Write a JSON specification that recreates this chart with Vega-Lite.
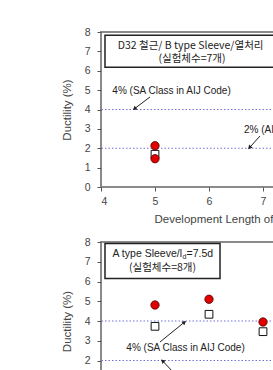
{
  "$schema": "https://vega.github.io/schema/vega-lite/v6.json",
  "padding": {"left": 60, "top": 26, "right": 0, "bottom": 0},
  "background": "white",
  "spacing": 55,
  "bounds": "flush",
  "config": {
    "font": "Liberation Sans, Noto Sans CJK KR",
    "view": {"stroke": "#8a8a8a", "strokeWidth": 2},
    "axis": {
      "grid": false,
      "domain": false,
      "tickColor": "#555",
      "tickSize": 4,
      "labelColor": "#444",
      "labelFontSize": 10.5,
      "labelFont": "Liberation Sans",
      "labelOverlap": false,
      "titleColor": "#444",
      "titleFontSize": 11.5,
      "titleFontWeight": "normal",
      "titleFont": "Liberation Sans"
    },
    "axisX": {"values": [4, 5, 6, 7, 8, 9, 10], "format": "d", "labelPadding": 5, "titlePadding": 7, "titleAnchor": "start", "titleX": 53, "labelOverlap": false},
    "axisY": {"values": [0, 1, 2, 3, 4, 5, 6, 7, 8], "format": "d", "labelPadding": 7, "titlePadding": 12, "labelOverlap": false}
  },
  "datasets": {
    "top": [
      {"len": 5, "ductility": 2.13, "type": "circle"},
      {"len": 5, "ductility": 1.46, "type": "circle"},
      {"len": 5, "ductility": 1.69, "type": "square"}
    ],
    "bottom": [
      {"len": 5, "ductility": 4.81, "type": "circle"},
      {"len": 5, "ductility": 3.73, "type": "square"},
      {"len": 6, "ductility": 5.1, "type": "circle"},
      {"len": 6, "ductility": 4.34, "type": "square"},
      {"len": 7, "ductility": 3.95, "type": "circle"},
      {"len": 7, "ductility": 3.46, "type": "square"}
    ],
    "limits": [{"level": 4}, {"level": 2}]
  },
  "vconcat": [
    {
      "width": 324,
      "height": 155,
      "layer": [
        {
          "data": {"name": "limits"},
          "mark": {"type": "rule", "color": "#7070dd", "strokeDash": [1.5, 2], "strokeWidth": 1},
          "encoding": {"y": {"field": "level", "type": "quantitative", "scale": {"domain": [0, 8]}, "axis": {"title": "Ductility (%)", "values": [0, 1, 2, 3, 4, 5, 6, 7, 8], "labelOverlap": false}}}
        },
        {
          "data": {"values": [{"x": 4.074, "x2": 7.296, "y": 7.83, "y2": 6.18}]},
          "mark": {"type": "rect", "fill": "white", "stroke": "#222", "strokeWidth": 1.5},
          "encoding": {
            "x": {"field": "x", "type": "quantitative", "scale": {"domain": [4, 10]}, "axis": {"title": "Development Length of Sleeve (d)", "values": [4, 5, 6, 7, 8, 9, 10], "labelOverlap": false}},
            "x2": {"field": "x2"},
            "y": {"field": "y", "type": "quantitative", "scale": {"domain": [0, 8]}, "axis": {"title": "Ductility (%)", "values": [0, 1, 2, 3, 4, 5, 6, 7, 8], "labelOverlap": false}},
            "y2": {"field": "y2"}
          }
        },
        {
          "data": {"values": [
            {"x": 5.66, "y": 7.29, "t": "D32 철근/ B type Sleeve/열처리"},
            {"x": 5.685, "y": 6.6, "t": "(실험체수=7개)"}
          ]},
          "mark": {"type": "text", "fontSize": 10.5, "color": "#222", "align": "center", "baseline": "middle", "font": "Noto Sans CJK KR"},
          "encoding": {
            "x": {"field": "x", "type": "quantitative", "scale": {"domain": [4, 10]}, "axis": {"title": "Development Length of Sleeve (d)", "values": [4, 5, 6, 7, 8, 9, 10], "labelOverlap": false}},
            "y": {"field": "y", "type": "quantitative", "scale": {"domain": [0, 8]}, "axis": {"title": "Ductility (%)", "values": [0, 1, 2, 3, 4, 5, 6, 7, 8], "labelOverlap": false}},
            "text": {"field": "t"}
          }
        },
        {
          "data": {"values": [{"x": 5.306, "y": 4.955, "t": "4% (SA Class in AIJ Code)"}]},
          "mark": {"type": "text", "fontSize": 10, "color": "#222", "align": "center", "baseline": "middle"},
          "encoding": {
            "x": {"field": "x", "type": "quantitative", "scale": {"domain": [4, 10]}, "axis": {"title": "Development Length of Sleeve (d)", "values": [4, 5, 6, 7, 8, 9, 10], "labelOverlap": false}},
            "y": {"field": "y", "type": "quantitative", "scale": {"domain": [0, 8]}, "axis": {"title": "Ductility (%)", "values": [0, 1, 2, 3, 4, 5, 6, 7, 8], "labelOverlap": false}},
            "text": {"field": "t"}
          }
        },
        {
          "data": {"values": [{"x": 6.648, "y": 2.942, "t": "2% (AIJ Code)"}]},
          "mark": {"type": "text", "fontSize": 10, "color": "#222", "align": "left", "baseline": "middle"},
          "encoding": {
            "x": {"field": "x", "type": "quantitative", "scale": {"domain": [4, 10]}, "axis": {"title": "Development Length of Sleeve (d)", "values": [4, 5, 6, 7, 8, 9, 10], "labelOverlap": false}},
            "y": {"field": "y", "type": "quantitative", "scale": {"domain": [0, 8]}, "axis": {"title": "Ductility (%)", "values": [0, 1, 2, 3, 4, 5, 6, 7, 8], "labelOverlap": false}},
            "text": {"field": "t"}
          }
        },
        {
          "data": {"values": [
            {"x": 4.907, "y": 4.645, "x2": 4.62, "y2": 4.04},
            {"x": 6.944, "y": 2.632, "x2": 6.75, "y2": 2.03}
          ]},
          "mark": {"type": "rule", "color": "#222", "strokeWidth": 1},
          "encoding": {
            "x": {"field": "x", "type": "quantitative", "scale": {"domain": [4, 10]}, "axis": {"title": "Development Length of Sleeve (d)", "values": [4, 5, 6, 7, 8, 9, 10], "labelOverlap": false}},
            "y": {"field": "y", "type": "quantitative", "scale": {"domain": [0, 8]}, "axis": {"title": "Ductility (%)", "values": [0, 1, 2, 3, 4, 5, 6, 7, 8], "labelOverlap": false}},
            "x2": {"field": "x2"},
            "y2": {"field": "y2"}
          }
        },
        {
          "data": {"values": [{"x": 4.62, "y": 4.04}]},
          "mark": {"type": "point", "shape": "triangle-up", "filled": true, "color": "#222", "size": 22, "angle": 233, "opacity": 1},
          "encoding": {
            "x": {"field": "x", "type": "quantitative", "scale": {"domain": [4, 10]}, "axis": {"title": "Development Length of Sleeve (d)", "values": [4, 5, 6, 7, 8, 9, 10], "labelOverlap": false}},
            "y": {"field": "y", "type": "quantitative", "scale": {"domain": [0, 8]}, "axis": {"title": "Ductility (%)", "values": [0, 1, 2, 3, 4, 5, 6, 7, 8], "labelOverlap": false}}
          }
        },
        {
          "data": {"values": [{"x": 6.75, "y": 2.03}]},
          "mark": {"type": "point", "shape": "triangle-up", "filled": true, "color": "#222", "size": 22, "angle": 222, "opacity": 1},
          "encoding": {
            "x": {"field": "x", "type": "quantitative", "scale": {"domain": [4, 10]}, "axis": {"title": "Development Length of Sleeve (d)", "values": [4, 5, 6, 7, 8, 9, 10], "labelOverlap": false}},
            "y": {"field": "y", "type": "quantitative", "scale": {"domain": [0, 8]}, "axis": {"title": "Ductility (%)", "values": [0, 1, 2, 3, 4, 5, 6, 7, 8], "labelOverlap": false}}
          }
        },
        {
          "data": {"name": "top"},
          "transform": [{"filter": "datum.type === 'square'"}],
          "mark": {"type": "point", "shape": "square", "filled": true, "fill": "white", "stroke": "#111", "strokeWidth": 1, "size": 60, "opacity": 1},
          "encoding": {
            "x": {"field": "len", "type": "quantitative", "scale": {"domain": [4, 10]}, "axis": {"title": "Development Length of Sleeve (d)", "values": [4, 5, 6, 7, 8, 9, 10], "labelOverlap": false}},
            "y": {"field": "ductility", "type": "quantitative", "scale": {"domain": [0, 8]}, "axis": {"title": "Ductility (%)", "values": [0, 1, 2, 3, 4, 5, 6, 7, 8], "labelOverlap": false}}
          }
        },
        {
          "data": {"name": "top"},
          "transform": [{"filter": "datum.type === 'circle'"}],
          "mark": {"type": "point", "shape": "circle", "filled": true, "fill": "#e00000", "stroke": "#500", "strokeWidth": 0.8, "size": 70, "opacity": 1},
          "encoding": {
            "x": {"field": "len", "type": "quantitative", "scale": {"domain": [4, 10]}, "axis": {"title": "Development Length of Sleeve (d)", "values": [4, 5, 6, 7, 8, 9, 10], "labelOverlap": false}},
            "y": {"field": "ductility", "type": "quantitative", "scale": {"domain": [0, 8]}, "axis": {"title": "Ductility (%)", "values": [0, 1, 2, 3, 4, 5, 6, 7, 8], "labelOverlap": false}}
          }
        }
      ]
    },
    {
      "width": 324,
      "height": 158,
      "layer": [
        {
          "data": {"name": "limits"},
          "mark": {"type": "rule", "color": "#7070dd", "strokeDash": [1.5, 2], "strokeWidth": 1},
          "encoding": {"y": {"field": "level", "type": "quantitative", "scale": {"domain": [0, 8]}, "axis": {"title": "Ductility (%)", "values": [0, 1, 2, 3, 4, 5, 6, 7, 8], "labelOverlap": false}}}
        },
        {
          "data": {"values": [{"x": 4.074, "x2": 6.204, "y": 7.92, "y2": 6.15}]},
          "mark": {"type": "rect", "fill": "white", "stroke": "#222", "strokeWidth": 1.5},
          "encoding": {
            "x": {"field": "x", "type": "quantitative", "scale": {"domain": [4, 10]}, "axis": {"title": "Development Length of Sleeve (d)", "values": [4, 5, 6, 7, 8, 9, 10], "labelOverlap": false}},
            "x2": {"field": "x2"},
            "y": {"field": "y", "type": "quantitative", "scale": {"domain": [0, 8]}, "axis": {"title": "Ductility (%)", "values": [0, 1, 2, 3, 4, 5, 6, 7, 8], "labelOverlap": false}},
            "y2": {"field": "y2"}
          }
        },
        {
          "data": {"values": [{"x": 5.5, "y": 7.39, "t": "A type Sleeve/l"}]},
          "mark": {"type": "text", "fontSize": 10.5, "color": "#222", "align": "right", "baseline": "middle"},
          "encoding": {
            "x": {"field": "x", "type": "quantitative", "scale": {"domain": [4, 10]}, "axis": {"title": "Development Length of Sleeve (d)", "values": [4, 5, 6, 7, 8, 9, 10], "labelOverlap": false}},
            "y": {"field": "y", "type": "quantitative", "scale": {"domain": [0, 8]}, "axis": {"title": "Ductility (%)", "values": [0, 1, 2, 3, 4, 5, 6, 7, 8], "labelOverlap": false}},
            "text": {"field": "t"}
          }
        },
        {
          "data": {"values": [{"x": 5.5, "y": 7.39, "t": "d"}]},
          "mark": {"type": "text", "fontSize": 7, "color": "#222", "align": "left", "baseline": "middle", "dx": 0.5, "dy": 3},
          "encoding": {
            "x": {"field": "x", "type": "quantitative", "scale": {"domain": [4, 10]}, "axis": {"title": "Development Length of Sleeve (d)", "values": [4, 5, 6, 7, 8, 9, 10], "labelOverlap": false}},
            "y": {"field": "y", "type": "quantitative", "scale": {"domain": [0, 8]}, "axis": {"title": "Ductility (%)", "values": [0, 1, 2, 3, 4, 5, 6, 7, 8], "labelOverlap": false}},
            "text": {"field": "t"}
          }
        },
        {
          "data": {"values": [{"x": 5.5, "y": 7.39, "t": "=7.5d"}]},
          "mark": {"type": "text", "fontSize": 10.5, "color": "#222", "align": "left", "baseline": "middle", "dx": 4.5},
          "encoding": {
            "x": {"field": "x", "type": "quantitative", "scale": {"domain": [4, 10]}, "axis": {"title": "Development Length of Sleeve (d)", "values": [4, 5, 6, 7, 8, 9, 10], "labelOverlap": false}},
            "y": {"field": "y", "type": "quantitative", "scale": {"domain": [0, 8]}, "axis": {"title": "Ductility (%)", "values": [0, 1, 2, 3, 4, 5, 6, 7, 8], "labelOverlap": false}},
            "text": {"field": "t"}
          }
        },
        {
          "data": {"values": [{"x": 5.139, "y": 6.68, "t": "(실험체수=8개)"}]},
          "mark": {"type": "text", "fontSize": 10.5, "color": "#222", "align": "center", "baseline": "middle", "font": "Noto Sans CJK KR"},
          "encoding": {
            "x": {"field": "x", "type": "quantitative", "scale": {"domain": [4, 10]}, "axis": {"title": "Development Length of Sleeve (d)", "values": [4, 5, 6, 7, 8, 9, 10], "labelOverlap": false}},
            "y": {"field": "y", "type": "quantitative", "scale": {"domain": [0, 8]}, "axis": {"title": "Ductility (%)", "values": [0, 1, 2, 3, 4, 5, 6, 7, 8], "labelOverlap": false}},
            "text": {"field": "t"}
          }
        },
        {
          "data": {"values": [{"x": 5.565, "y": 2.633, "t": "4% (SA Class in AIJ Code)"}]},
          "mark": {"type": "text", "fontSize": 10, "color": "#222", "align": "center", "baseline": "middle"},
          "encoding": {
            "x": {"field": "x", "type": "quantitative", "scale": {"domain": [4, 10]}, "axis": {"title": "Development Length of Sleeve (d)", "values": [4, 5, 6, 7, 8, 9, 10], "labelOverlap": false}},
            "y": {"field": "y", "type": "quantitative", "scale": {"domain": [0, 8]}, "axis": {"title": "Ductility (%)", "values": [0, 1, 2, 3, 4, 5, 6, 7, 8], "labelOverlap": false}},
            "text": {"field": "t"}
          }
        },
        {
          "data": {"values": [
            {"x": 5.093, "y": 2.937, "x2": 5.545, "y2": 3.94},
            {"x": 5.333, "y": 1.42, "x2": 5.14, "y2": 1.985}
          ]},
          "mark": {"type": "rule", "color": "#222", "strokeWidth": 1},
          "encoding": {
            "x": {"field": "x", "type": "quantitative", "scale": {"domain": [4, 10]}, "axis": {"title": "Development Length of Sleeve (d)", "values": [4, 5, 6, 7, 8, 9, 10], "labelOverlap": false}},
            "y": {"field": "y", "type": "quantitative", "scale": {"domain": [0, 8]}, "axis": {"title": "Ductility (%)", "values": [0, 1, 2, 3, 4, 5, 6, 7, 8], "labelOverlap": false}},
            "x2": {"field": "x2"},
            "y2": {"field": "y2"}
          }
        },
        {
          "data": {"values": [{"x": 5.545, "y": 3.94}]},
          "mark": {"type": "point", "shape": "triangle-up", "filled": true, "color": "#222", "size": 22, "angle": 51, "opacity": 1},
          "encoding": {
            "x": {"field": "x", "type": "quantitative", "scale": {"domain": [4, 10]}, "axis": {"title": "Development Length of Sleeve (d)", "values": [4, 5, 6, 7, 8, 9, 10], "labelOverlap": false}},
            "y": {"field": "y", "type": "quantitative", "scale": {"domain": [0, 8]}, "axis": {"title": "Ductility (%)", "values": [0, 1, 2, 3, 4, 5, 6, 7, 8], "labelOverlap": false}}
          }
        },
        {
          "data": {"values": [{"x": 5.14, "y": 1.985}]},
          "mark": {"type": "point", "shape": "triangle-up", "filled": true, "color": "#222", "size": 22, "angle": 312, "opacity": 1},
          "encoding": {
            "x": {"field": "x", "type": "quantitative", "scale": {"domain": [4, 10]}, "axis": {"title": "Development Length of Sleeve (d)", "values": [4, 5, 6, 7, 8, 9, 10], "labelOverlap": false}},
            "y": {"field": "y", "type": "quantitative", "scale": {"domain": [0, 8]}, "axis": {"title": "Ductility (%)", "values": [0, 1, 2, 3, 4, 5, 6, 7, 8], "labelOverlap": false}}
          }
        },
        {
          "data": {"name": "bottom"},
          "transform": [{"filter": "datum.type === 'square'"}],
          "mark": {"type": "point", "shape": "square", "filled": true, "fill": "white", "stroke": "#111", "strokeWidth": 1, "size": 60, "opacity": 1},
          "encoding": {
            "x": {"field": "len", "type": "quantitative", "scale": {"domain": [4, 10]}, "axis": {"title": "Development Length of Sleeve (d)", "values": [4, 5, 6, 7, 8, 9, 10], "labelOverlap": false}},
            "y": {"field": "ductility", "type": "quantitative", "scale": {"domain": [0, 8]}, "axis": {"title": "Ductility (%)", "values": [0, 1, 2, 3, 4, 5, 6, 7, 8], "labelOverlap": false}}
          }
        },
        {
          "data": {"name": "bottom"},
          "transform": [{"filter": "datum.type === 'circle'"}],
          "mark": {"type": "point", "shape": "circle", "filled": true, "fill": "#e00000", "stroke": "#500", "strokeWidth": 0.8, "size": 70, "opacity": 1},
          "encoding": {
            "x": {"field": "len", "type": "quantitative", "scale": {"domain": [4, 10]}, "axis": {"title": "Development Length of Sleeve (d)", "values": [4, 5, 6, 7, 8, 9, 10], "labelOverlap": false}},
            "y": {"field": "ductility", "type": "quantitative", "scale": {"domain": [0, 8]}, "axis": {"title": "Ductility (%)", "values": [0, 1, 2, 3, 4, 5, 6, 7, 8], "labelOverlap": false}}
          }
        }
      ]
    }
  ]
}
